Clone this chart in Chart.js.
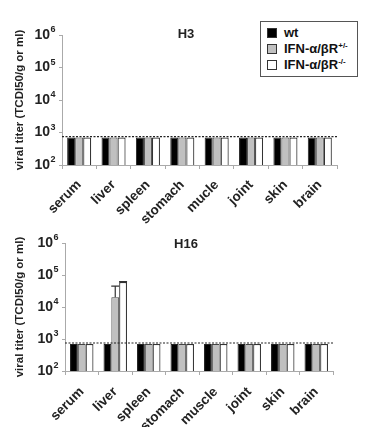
<!DOCTYPE html>
<html><head><meta charset="utf-8">
<script src="https://cdn.jsdelivr.net/npm/chart.js@4/dist/chart.umd.min.js"></script>
<style>
body{margin:0;background:#fff;width:375px;height:427px;overflow:hidden;position:relative;font-family:"Liberation Sans",Arial,sans-serif;}
.wrap{position:absolute;left:0;width:375px;}
#legend{position:absolute;left:260px;top:21px;width:96px;height:54px;border:1px solid #555;background:#fff;font-weight:bold;font-size:13px;color:#111;}
#legend .row{position:absolute;left:6px;height:14px;line-height:14px;white-space:nowrap;}
#legend .sw{display:inline-block;width:10px;height:10px;border:1px solid #333;box-sizing:border-box;vertical-align:-1px;margin-right:7px;}
#legend sup{font-size:8px;line-height:0;vertical-align:5px;}
</style></head><body>
<div class="wrap" style="top:0;height:228px"><canvas id="c1" width="375" height="228"></canvas></div>
<div class="wrap" style="top:210px;height:217px"><canvas id="c2" width="375" height="217"></canvas></div>
<div id="legend">
  <div class="row" style="top:4px"><span class="sw" style="background:#000"></span>wt</div>
  <div class="row" style="top:20px"><span class="sw" style="background:#c0c0c0"></span>IFN-α/βR<sup>+/-</sup></div>
  <div class="row" style="top:36px"><span class="sw" style="background:#fff"></span>IFN-α/βR<sup>-/-</sup></div>
</div>
<script>
// ---- data ----
const categoriesH3 = ['serum','liver','spleen','stomach','mucle','joint','skin','brain'];
const categoriesH16 = ['serum','liver','spleen','stomach','muscle','joint','skin','brain'];
const seriesNames = ['wt','IFN-α/βR+/-','IFN-α/βR-/-'];
const h3Wt  = [700,700,700,700,700,700,700,700];
const h3Het = [700,700,700,700,700,700,700,700];
const h3Ko  = [700,700,700,700,700,700,700,700];
const h16Wt  = [700,700,700,700,700,700,700,700];
const h16Het = [700,20000,700,700,700,700,700,700];
const h16Ko  = [700,60000,700,700,700,700,700,700];
const h16HetErrUpper = [null,45000,null,null,null,null,null,null];
const h16KoErrUpper  = [null,62000,null,null,null,null,null,null];
const detectionLimit = 750;
const yTickValues = [100,1000,10000,100000,1000000];
const yTickBase = '10';
const yTickExponents = ['2','3','4','5','6'];

const colors = ['#000000','#c0c0c0','#ffffff'];
const FONT = '"Liberation Sans", Arial, sans-serif';

const extrasPlugin = {
  id:'extras',
  afterDraw(chart, args, opts){
    const ctx = chart.ctx, y = chart.scales.y;
    ctx.save(); ctx.fillStyle='#222';
    ctx.font='bold 9px '+FONT; ctx.textAlign='left'; ctx.textBaseline='middle';
    const xr = y.right - 3 - 9; // right edge of "10"
    yTickValues.forEach((v,i)=>{
      const py = y.getPixelForValue(v);
      ctx.fillText(yTickExponents[i], xr + 0.5, py - 5);
    });
    ctx.restore();
  },
  afterDatasetsDraw(chart, args, opts){
    const ctx = chart.ctx, ca = chart.chartArea, y = chart.scales.y;
    (opts.errors||[]).forEach((errArr, di)=>{
      if(!errArr) return;
      const meta = chart.getDatasetMeta(di);
      errArr.forEach((v,i)=>{
        if(v==null) return;
        const el = meta.data[i];
        const yt = y.getPixelForValue(v);
        ctx.save(); ctx.strokeStyle='#333'; ctx.lineWidth=1.2;
        ctx.beginPath(); ctx.moveTo(el.x, el.y); ctx.lineTo(el.x, yt);
        ctx.moveTo(el.x-4, yt); ctx.lineTo(el.x+4, yt); ctx.stroke(); ctx.restore();
      });
    });
    const yl = y.getPixelForValue(opts.limit);
    ctx.save(); ctx.strokeStyle='#222'; ctx.lineWidth=1.2; ctx.setLineDash([2,1.5]);
    ctx.beginPath(); ctx.moveTo(ca.left, yl); ctx.lineTo(ca.right, yl); ctx.stroke(); ctx.restore();
    ctx.save(); ctx.fillStyle='#222'; ctx.font='bold 13px '+FONT; ctx.textAlign='center'; ctx.textBaseline='middle';
    ctx.fillText(opts.title, opts.titleX, ca.top + opts.titleDy); ctx.restore();
  }
};

function makeChart(id, cats, wt, het, ko, cfg){
  return new Chart(document.getElementById(id), {
    type:'bar',
    data:{labels:cats, datasets:[
      {label:seriesNames[0], data:wt, backgroundColor:colors[0], borderColor:'#222', borderWidth:1},
      {label:seriesNames[1], data:het, backgroundColor:colors[1], borderColor:'#444', borderWidth:1},
      {label:seriesNames[2], data:ko, backgroundColor:colors[2], borderColor:'#333', borderWidth:1.2},
    ]},
    options:{
      responsive:false, animation:false,
      layout:{padding:{left:0, right:cfg.right, top:cfg.top, bottom:0}},
      datasets:{bar:{categoryPercentage:0.7, barPercentage:1.0}},
      plugins:{legend:{display:false}, tooltip:{enabled:false},
        extras:{limit:detectionLimit, errors:cfg.errors, title:cfg.title, titleX:cfg.titleX, titleDy:cfg.titleDy}},
      scales:{
        x:{
          grid:{display:true, drawOnChartArea:false, tickLength:4, color:'#aaa'},
          border:{color:'#aaa'},
          ticks:{minRotation:45, maxRotation:45, color:'#222', font:{family:FONT, weight:'bold', size:13.5}, padding:cfg.xpad},
          afterFit:s=>{s.height = cfg.xh;}
        },
        y:{
          type:'logarithmic', min:100, max:1000000,
          afterBuildTicks:s=>{s.ticks = yTickValues.map(v=>({value:v, major:true}));},
          grid:{display:true, drawOnChartArea:false, tickLength:3, color:'#aaa'},
          border:{color:'#aaa'},
          ticks:{color:'#222', font:{family:FONT, weight:'bold', size:14}, padding:9,
            callback:(v)=> yTickValues.indexOf(v)>=0 ? yTickBase : ''},
          title:{display:true, text:'viral titer (TCDI50/g or ml)', color:'#222',
            font:{family:FONT, weight:'bold', size:11.5}, padding:{top:13,bottom:0}},
          afterFit:s=>{s.width = cfg.yw;}
        }
      }
    },
    plugins:[extrasPlugin]
  });
}

makeChart('c1', categoriesH3, h3Wt, h3Het, h3Ko,
  {right:38, top:35, xh:63, yw:62, xpad:8, title:'H3', titleX:186, titleDy:-1, errors:[]});
makeChart('c2', categoriesH16, h16Wt, h16Het, h16Ko,
  {right:42, top:33, xh:56, yw:65, xpad:9, title:'H16', titleX:186, titleDy:1, errors:[null,h16HetErrUpper,h16KoErrUpper]});
</script>
</body></html>
